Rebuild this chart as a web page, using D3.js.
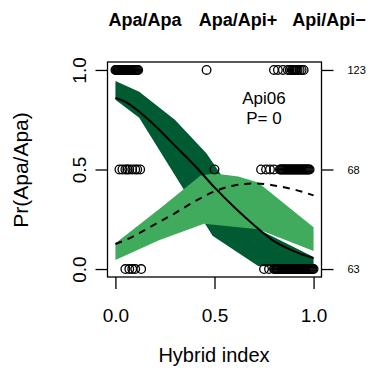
<!DOCTYPE html>
<html>
<head>
<meta charset="utf-8">
<script src="https://cdn.jsdelivr.net/npm/d3@7"></script>
<style>
  body { margin: 0; background: #fff; }
  text { font-family: "Liberation Sans", Arial, sans-serif; }
</style>
</head>
<body>
<svg id="svg_main" width="370" height="368"></svg>
<script>
// hybrid index of each sample, split by observed genotype row
const ptsApaApa = [0, 0.004, 0.008, 0.012, 0.016, 0.02, 0.024, 0.028, 0.032, 0.036, 0.04, 0.045, 0.05, 0.055, 0.06,
    0.065, 0.07, 0.075, 0.08, 0.085, 0.09, 0.095, 0.1, 0.105, 0.11, 0.115,
    0.46,
    0.80, 0.82, 0.845, 0.87, 0.88, 0.89, 0.895, 0.9, 0.905, 0.91, 0.915, 0.92, 0.93, 0.94, 0.95];
const ptsHet = [0.02, 0.035, 0.05, 0.06, 0.07, 0.085, 0.1, 0.11, 0.125,
    0.5,
    0.735, 0.76, 0.78, 0.80, 0.83, 0.835, 0.84, 0.845, 0.85, 0.855, 0.86, 0.865, 0.87, 0.875, 0.88, 0.885, 0.89,
    0.895, 0.9, 0.905, 0.91, 0.915, 0.92, 0.925, 0.93, 0.935, 0.94, 0.945, 0.95, 0.955, 0.96, 0.965, 0.97, 0.975, 0.98];
const ptsApiApi = [0.05, 0.07, 0.085, 0.1, 0.13,
    0.75, 0.775, 0.80, 0.805, 0.81, 0.815, 0.82, 0.825, 0.83, 0.835, 0.84, 0.845, 0.85, 0.855, 0.86, 0.865, 0.87,
    0.875, 0.88, 0.885, 0.89, 0.895, 0.9, 0.905, 0.91, 0.915, 0.92, 0.925, 0.93, 0.935, 0.94, 0.945, 0.95, 0.955,
    0.96, 0.965, 0.97, 0.975, 0.98, 0.985, 0.99, 0.995, 1.0];
const rowY = {ApaApa: 1, Het: 0.5, ApiApi: 0};

// fitted curves
const fitH = [0, 0.06, 0.12, 0.2, 0.3, 0.4, 0.5, 0.6, 0.7, 0.8, 0.9, 1.0];
const fitApaApa = [0.86, 0.835, 0.79, 0.72, 0.62, 0.52, 0.41, 0.31, 0.22, 0.14, 0.09, 0.055];
const fitHet = [0.126, 0.15, 0.18, 0.225, 0.28, 0.34, 0.39, 0.42, 0.43, 0.42, 0.40, 0.37];

// confidence bands
const bandApaApaUpper = [[0, 0.944], [0.12, 0.89], [0.30, 0.75], [0.46, 0.58], [0.72, 0.20], [1.0, 0.06]];
const bandApaApaLower = [[0, 0.85], [0.12, 0.76], [0.49, 0.167], [0.72, 0.015], [1.0, 0.005]];
const bandHetUpper = [[0, 0.13], [0.22, 0.30], [0.43, 0.47], [0.5, 0.48], [0.62, 0.465], [0.72, 0.435], [1.0, 0.21]];
const bandHetLower = [[0, 0.045], [0.22, 0.145], [0.447, 0.227], [0.72, 0.20], [1.0, 0.09]];

const xTicks = [0, 0.5, 1];
const yTicks = [0, 0.5, 1];
const rightLabels = ['63', '68', '123'];
const topLabels = ['Apa/Apa', 'Apa/Api+', 'Api/Api\u2212'];
const locus = 'Api06', pLabel = 'P= 0';

const svg = d3.select('#svg_main');
const x = d3.scaleLinear().domain([-0.04, 1.04]).range([107.5, 321.5]);
const y = d3.scaleLinear().domain([-0.04, 1.04]).range([277, 62]);

function band(upper, lower) {
    return upper.concat(lower.slice().reverse());
}
const area = d3.line().x(d => x(d[0])).y(d => y(d[1]));

svg.append('path')
    .attr('d', area(band(bandApaApaUpper, bandApaApaLower)) + 'Z')
    .attr('fill', '#005a32');
svg.append('path')
    .attr('d', area(band(bandHetUpper, bandHetLower)) + 'Z')
    .attr('fill', '#41ab5d');

const fitLine = d3.line().x(d => x(d[0])).y(d => y(d[1])).curve(d3.curveMonotoneX);
svg.append('path')
    .attr('d', fitLine(fitH.map((h, i) => [h, fitApaApa[i]])))
    .attr('fill', 'none').attr('stroke', '#000').attr('stroke-width', 2);
svg.append('path')
    .attr('d', fitLine(fitH.map((h, i) => [h, fitHet[i]])))
    .attr('fill', 'none').attr('stroke', '#000').attr('stroke-width', 2)
    .attr('stroke-dasharray', '7,6');

const pts = [].concat(
    ptsApaApa.map(h => [h, rowY.ApaApa]),
    ptsHet.map(h => [h, rowY.Het]),
    ptsApiApi.map(h => [h, rowY.ApiApi]));
svg.append('g').selectAll('circle')
    .data(pts)
    .join('circle')
    .attr('cx', d => x(d[0]))
    .attr('cy', d => y(d[1]))
    .attr('r', 4.3)
    .attr('fill', 'none')
    .attr('stroke', '#000')
    .attr('stroke-width', 1.3);

// box
svg.append('rect')
    .attr('x', 107.5).attr('y', 62).attr('width', 214).attr('height', 215)
    .attr('fill', 'none').attr('stroke', '#000').attr('stroke-width', 1.3);

const fmt = d3.format('.1f');
const gx = svg.append('g').attr('transform', 'translate(0,277)')
    .call(d3.axisBottom(x).tickValues(xTicks).tickFormat(fmt).tickSize(12).tickPadding(20));
const gl = svg.append('g').attr('transform', 'translate(107.5,0)')
    .call(d3.axisLeft(y).tickValues(yTicks).tickFormat(fmt).tickSize(12));
const gr = svg.append('g').attr('transform', 'translate(321.5,0)')
    .call(d3.axisRight(y).tickValues(yTicks).tickFormat((d, i) => rightLabels[i]).tickSize(12).tickPadding(14));
[gx, gl, gr].forEach(g => {
    g.select('.domain').remove();
    g.selectAll('line').attr('stroke-width', 1.3);
    g.selectAll('text').attr('fill', '#000').style('font-family', '"Liberation Sans", Arial, sans-serif');
});
gx.selectAll('text').attr('font-size', 19);
gl.selectAll('.tick text')
    .attr('font-size', 19)
    .attr('text-anchor', 'middle')
    .attr('dy', null).attr('x', 0).attr('y', 0)
    .attr('transform', 'translate(-21.5,0) rotate(-90)');
gr.selectAll('text').attr('font-size', 11);

svg.append('text').attr('x', 214).attr('y', 362).attr('text-anchor', 'middle')
    .attr('font-size', 20).text('Hybrid index');
svg.append('text').attr('transform', 'translate(28,170) rotate(-90)').attr('text-anchor', 'middle')
    .attr('font-size', 21).text('Pr(Apa/Apa)');

const topX = [145, 238, 329];
svg.append('g').selectAll('text')
    .data(topLabels)
    .join('text')
    .attr('x', (d, i) => topX[i]).attr('y', 26)
    .attr('text-anchor', 'middle').attr('font-weight', 'bold').attr('font-size', 18)
    .text(d => d);

svg.append('text').attr('x', 264).attr('y', 104).attr('text-anchor', 'middle')
    .attr('font-size', 17).text(locus);
svg.append('text').attr('x', 264).attr('y', 124).attr('text-anchor', 'middle')
    .attr('font-size', 17).text(pLabel);
</script>
</body>
</html>
